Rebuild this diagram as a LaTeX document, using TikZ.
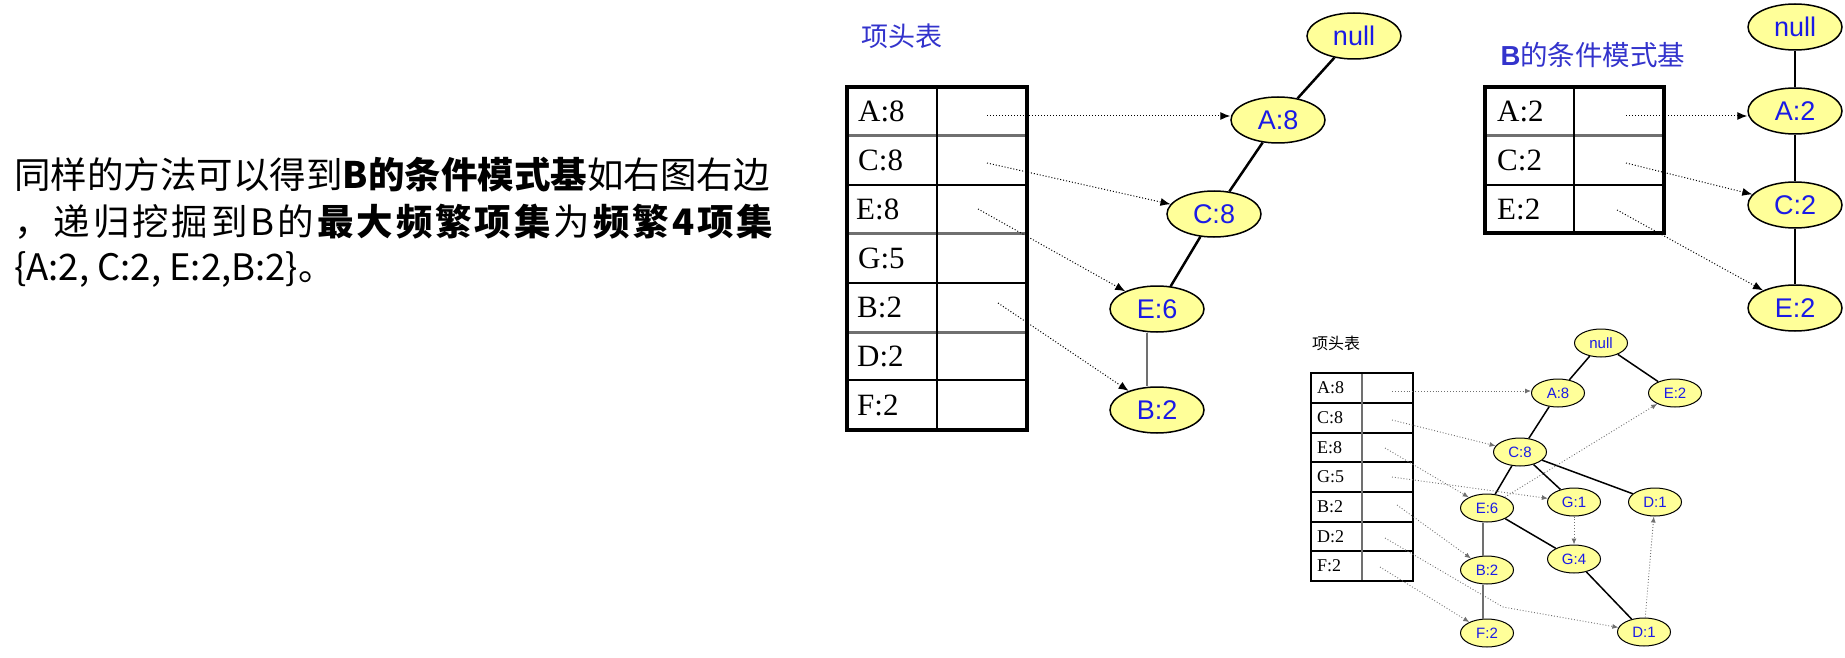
\documentclass[tikz,border=0pt]{standalone}
\usepackage{fontspec}
\setmainfont{Liberation Serif}
\setsansfont{Liberation Sans}
\newfontfamily\cjk{Noto Sans CJK SC}
\usetikzlibrary{shapes.geometric,arrows.meta,calc}
\definecolor{nodefill}{HTML}{FFFF99}
\definecolor{lblue}{HTML}{1A1AE6}
\definecolor{tblue}{HTML}{3333CC}
\definecolor{gline}{HTML}{707070}
\begin{document}
\begin{tikzpicture}[x=1pt,y=-1pt,
  bignode/.style={ellipse, draw=black, line width=1.5pt, fill=nodefill, minimum width=94pt, minimum height=46pt, inner sep=0pt, text=lblue, font=\sffamily\fontsize{27}{27}\selectfont},
  smallnode/.style={ellipse, draw=black, line width=1pt, fill=nodefill, minimum width=53pt, minimum height=28pt, inner sep=0pt, text=lblue, font=\sffamily\fontsize{15}{15}\selectfont},
  treeedge/.style={line width=2.5pt},
  smalledge/.style={line width=1.5pt},
  ptr/.style={dotted, line width=1pt, -{Latex[length=10pt,width=8pt]}},
  smallptr/.style={dotted, draw=gline, line width=0.9pt, -{Latex[length=6pt,width=5pt]}},
  cellbig/.style={anchor=west, inner sep=0pt, font=\fontsize{31}{31}\selectfont},
  cellsmall/.style={anchor=west, inner sep=0pt, font=\fontsize{18}{18}\selectfont},
  txtline/.style={anchor=base west, inner sep=0pt, font=\cjk\fontsize{36.5}{36.5}\selectfont},
]
\useasboundingbox (0,0) rectangle (1845,658);

% ---------- left text ----------
\node[txtline] (l1) at (14,189) {同样的方法可以得到\textbf{B的条件模式基}如右图右边};
\node[txtline] (l2) at (14,235) {\makebox[759pt][l]{，\hfill 递\hfill 归\hfill 挖\hfill 掘\hfill 到\hfill B\hfill 的\hfill \textbf{最}\hfill \textbf{大}\hfill \textbf{频}\hfill \textbf{繁}\hfill \textbf{项}\hfill \textbf{集}\hfill 为\hfill \textbf{频}\hfill \textbf{繁}\hfill \textbf{4}\hfill \textbf{项}\hfill \textbf{集}}};
\node[txtline] (l3) at (14,280) {\{A:2, C:2, E:2,B:2\}。};

% ---------- main header table ----------
\node[text=tblue, font=\cjk\fontsize{27}{27}\selectfont] (title1) at (902,36) {项头表};
\foreach \y in {136,233,332} \draw[gline, line width=3pt] (847,\y) -- (1027,\y);
\foreach \y in {185,283,380} \draw[line width=2pt] (847,\y) -- (1027,\y);
\draw[line width=2pt] (937,87) -- (937,430);
\draw[line width=3.5pt] (847,87) rectangle (1027,430);
\node[cellbig] (mA) at (858,111.5) {A:8};
\node[cellbig] (mC) at (858,160.5) {C:8};
\node[cellbig] (mE) at (856,209) {E:8};
\node[cellbig] (mG) at (858,258) {G:5};
\node[cellbig] (mB) at (857,307.5) {B:2};
\node[cellbig] (mD) at (857,356) {D:2};
\node[cellbig] (mF) at (857,405) {F:2};

% main tree
\node[bignode] (mnull) at (1354,36) {null};
\node[bignode] (mA8) at (1278,120) {A:8};
\node[bignode] (mC8) at (1214,214) {C:8};
\node[bignode] (mE6) at (1157,309) {E:6};
\node[bignode] (mB2) at (1157,410) {B:2};
\draw[treeedge] (mnull) -- (mA8);
\draw[treeedge] (mA8) -- (mC8);
\draw[treeedge] (mC8) -- (mE6);
\draw[gline, line width=2.5pt] ($(mE6.south)+(-10,0)$) -- ($(mB2.north)+(-10,0)$);

\coordinate (pA) at (987,116);
\coordinate (pC) at (987,163);
\coordinate (pE) at (978,209);
\coordinate (pB) at (998,303);
\draw[ptr] (pA) -- (mA8.west |- pA);
\draw[ptr] (pC) -- (mC8);
\draw[ptr] (pE) -- (mE6);
\draw[ptr] (pB) -- (mB2);

% ---------- B conditional pattern base ----------
\node[text=tblue, font=\cjk\fontsize{27.5}{27.5}\selectfont] (title2) at (1593,55) {{\sffamily\bfseries B}的条件模式基};
\draw[gline, line width=3pt] (1485,136) -- (1664,136);
\draw[line width=2pt] (1485,185) -- (1664,185);
\draw[line width=1.5pt] (1574,87) -- (1574,233);
\draw[line width=3.5pt] (1485,87) rectangle (1664,233);
\node[cellbig] (rA) at (1497,111.5) {A:2};
\node[cellbig] (rC) at (1497,160.5) {C:2};
\node[cellbig] (rE) at (1497,209) {E:2};

\node[bignode] (rnull) at (1795,27) {null};
\node[bignode] (rA2) at (1795,111) {A:2};
\node[bignode] (rC2) at (1795,205) {C:2};
\node[bignode] (rE2) at (1795,308) {E:2};
\draw[treeedge] (rnull) -- (rA2);
\draw[treeedge] (rA2) -- (rC2);
\draw[treeedge] (rC2) -- (rE2);

\coordinate (qA) at (1626,116);
\coordinate (qC) at (1626,163);
\coordinate (qE) at (1617,210);
\draw[ptr] (qA) -- (rA2.west |- qA);
\draw[ptr] (qC) -- (rC2);
\draw[ptr] (qE) -- (rE2);

% ---------- lower full FP-tree ----------
\node[font=\cjk\fontsize{16}{16}\selectfont] (title3) at (1336,343) {项头表};
\foreach \y in {403,433,462,492,522,551} \draw[line width=1.2pt] (1311,\y) -- (1413,\y);
\draw[gline, line width=2pt] (1362,373) -- (1362,581);
\draw[line width=2pt] (1311,373) rectangle (1413,581);
\node[cellsmall] (sA) at (1317,388) {A:8};
\node[cellsmall] (sC) at (1317,418) {C:8};
\node[cellsmall] (sE) at (1317,447.5) {E:8};
\node[cellsmall] (sG) at (1317,477) {G:5};
\node[cellsmall] (sB) at (1317,507) {B:2};
\node[cellsmall] (sD) at (1317,536.5) {D:2};
\node[cellsmall] (sF) at (1317,566) {F:2};

\node[smallnode] (snull) at (1601,343) {null};
\node[smallnode] (sA8) at (1558,393) {A:8};
\node[smallnode] (sE2) at (1675,393) {E:2};
\node[smallnode] (sC8) at (1520,452) {C:8};
\node[smallnode] (sE6) at (1487,508) {E:6};
\node[smallnode] (sG1) at (1574,502) {G:1};
\node[smallnode] (sD1r) at (1655,502) {D:1};
\node[smallnode] (sG4) at (1574,559) {G:4};
\node[smallnode] (sB2) at (1487,570) {B:2};
\node[smallnode] (sF2) at (1487,633) {F:2};
\node[smallnode] (sD1b) at (1644,632) {D:1};

\draw[smalledge] (snull) -- (sA8);
\draw[smalledge] (snull) -- (sE2);
\draw[smalledge] (sA8) -- (sC8);
\draw[smalledge] (sC8) -- (sE6);
\draw[smalledge] (sC8) -- (sG1);
\draw[smalledge] (sC8) -- (sD1r);
\draw[smalledge] (sE6) -- (sG4);
\draw[smalledge] (sG4) -- (sD1b);
\draw[gline, line width=2pt] ($(sE6.south)+(-4,0)$) -- ($(sB2.north)+(-4,0)$);
\draw[gline, line width=2pt] ($(sB2.south)+(-4,0)$) -- ($(sF2.north)+(-4,0)$);
\draw[smallptr] (sG1) -- (sG4);
\draw[smallptr] (sD1b) -- (sD1r);
\draw[smallptr] (sE6) -- (sE2);

\coordinate (uA) at (1392,391);
\coordinate (uC) at (1392,420);
\coordinate (uE) at (1385,448);
\coordinate (uG) at (1392,477);
\coordinate (uB) at (1397,505);
\coordinate (uD) at (1385,538);
\coordinate (uDm) at (1503,607);
\coordinate (uF) at (1380,567);
\draw[smallptr] (uA) -- (sA8.west |- uA);
\draw[smallptr] (uC) -- (sC8);
\draw[smallptr] (uE) -- (sE6);
\draw[smallptr] (uG) -- (sG1);
\draw[smallptr] (uB) -- (sB2);
\draw[smallptr] (uD) -- (uDm) -- (sD1b);
\draw[smallptr] (uF) -- (sF2);
\end{tikzpicture}
\end{document}
